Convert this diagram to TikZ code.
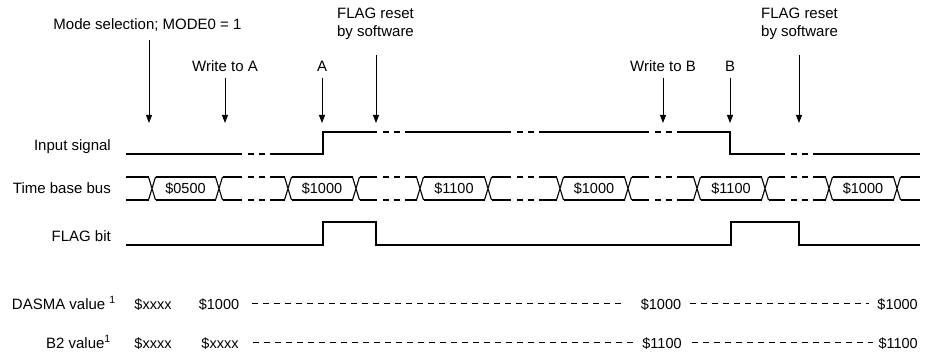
\documentclass[tikz,border=0pt]{standalone}
\usepackage{fontspec}
\setmainfont{Liberation Sans}
\usetikzlibrary{arrows.meta}
\newcommand\brkdash[2]{\draw[sig] (#1+6,#2) -- (#1+12,#2) (#1+17,#2) -- (#1+23,#2);}
\newcommand\tbline[1]{\draw[sig] (126,#1)--(148.5,#1) (155.5,#1)--(215.5,#1) (222.5,#1)--(242,#1)
 (270,#1)--(284.5,#1) (291.5,#1)--(352.5,#1) (359.5,#1)--(377,#1)
 (405,#1)--(416.5,#1) (423.5,#1)--(484.5,#1) (491.5,#1)--(511,#1)
 (539,#1)--(556.5,#1) (563.5,#1)--(624.5,#1) (631.5,#1)--(649,#1)
 (677,#1)--(693.5,#1) (700.5,#1)--(761.5,#1) (768.5,#1)--(785,#1)
 (813,#1)--(825.5,#1) (832.5,#1)--(893.5,#1) (900.5,#1)--(920,#1);
 \foreach \a in {242,377,511,649,785} {\brkdash{\a}{#1}}}
\begin{document}
\begin{tikzpicture}[x=1pt,y=-1pt,
  sig/.style={line width=1.1pt},
  lbl/.style={inner sep=0pt, font=\fontsize{15}{18}\selectfont},
  val/.style={inner sep=0pt, font=\fontsize{14.5}{18}\selectfont, text height=11pt, text depth=0pt, anchor=base},
  arr/.style={line width=1pt, -{Triangle[length=8pt,width=6pt]}},
  dsh/.style={line width=0.9pt, dash pattern=on 6pt off 5pt}]
\useasboundingbox (0,0) rectangle (925,355);

% top labels
\node[lbl, anchor=base] (mode) at (147.5,30) {Mode selection; MODE0 = 1};
\node[lbl, anchor=base] (wa) at (225,72) {Write to A};
\node[lbl, anchor=base] (la) at (322,72) {A};
\node[lbl, anchor=base] (fr1a) at (375.5,19) {FLAG reset};
\node[lbl, anchor=base] (fr1b) at (375.5,37) {by software};
\node[lbl, anchor=base] (wb) at (663,72) {Write to B};
\node[lbl, anchor=base] (lb) at (730,72) {B};
\node[lbl, anchor=base] (fr2a) at (799.5,19) {FLAG reset};
\node[lbl, anchor=base] (fr2b) at (799.5,37) {by software};

% arrows
\coordinate (m1) at (149,40);  \coordinate (m2) at (149,123);
\coordinate (w1) at (225,78);  \coordinate (w2) at (225,123);
\coordinate (a1) at (322,78);  \coordinate (a2) at (322,123);
\coordinate (f1) at (376,55);  \coordinate (f2) at (376,123);
\coordinate (v1) at (663,78);  \coordinate (v2) at (663,123);
\coordinate (b1) at (730,78);  \coordinate (b2) at (730,123);
\coordinate (g1) at (799,55);  \coordinate (g2) at (799,123);
\foreach \s/\e in {m1/m2,w1/w2,a1/a2,f1/f2,v1/v2,b1/b2,g1/g2} \draw[arr] (\s) -- (\e);

% row labels
\node[lbl, anchor=base east] (insig) at (111,151) {Input signal};
\node[lbl, anchor=base east] (tbb) at (111,194) {Time base bus};
\node[lbl, anchor=base east] (flagbit) at (111,241) {FLAG bit};

% input signal
\draw[sig] (126,154)--(242,154) (270,154)--(323,154)--(323,132)--(377,132)
  (405,132)--(511,132) (539,132)--(649,132) (677,132)--(730,132)--(730,154)--(785,154)
  (813,154)--(920,154);
\brkdash{242}{154} \brkdash{377}{132} \brkdash{511}{132} \brkdash{649}{132} \brkdash{785}{154}

% time base bus
\tbline{177}
\tbline{200}
\foreach \c in {152,219,288,356,420,488,560,628,697,765,829,897}
  \draw[sig] (\c-3.5,177)--(\c+3.5,200) (\c-3.5,200)--(\c+3.5,177);
\node[val] (t1) at (185.5,194) {\$0500};
\node[val] (t2) at (322,194) {\$1000};
\node[val] (t3) at (454,194) {\$1100};
\node[val] (t4) at (594,194) {\$1000};
\node[val] (t5) at (731,194) {\$1100};
\node[val] (t6) at (863,194) {\$1000};

% FLAG bit
\draw[sig] (126,245)--(323,245)--(323,222)--(376,222)--(376,245)--(731,245)--(731,222)--(799,222)--(799,245)--(920,245);

% value rows
\node[lbl, anchor=base east] (dasmaL) at (116,309) {DASMA value \textsuperscript{1}};
\node[lbl, anchor=base east] (b2L) at (111,348) {B2 value\textsuperscript{1}};
\node[val] (d1) at (153,309) {\$xxxx};
\node[val] (d2) at (219,309) {\$1000};
\node[val] (d3) at (661,309) {\$1000};
\node[val, anchor=base east] (d4) at (918,309) {\$1000};
\node[val] (e1) at (153,348) {\$xxxx};
\node[val] (e2) at (220,348) {\$xxxx};
\node[val] (e3) at (662,348) {\$1100};
\node[val, anchor=base east] (e4) at (918,348) {\$1100};
\draw[dsh, shorten <=13pt, shorten >=17pt] (d2.east) -- (d3.west);
\draw[dsh, shorten <=9pt, shorten >=8pt] (d3.east) -- (d4.west);
\draw[dsh, shorten <=14.5pt, shorten >=9pt] (e2.east) -- (e3.west);
\draw[dsh, shorten <=10pt, shorten >=5pt] (e3.east) -- (e4.west);
\end{tikzpicture}
\end{document}
